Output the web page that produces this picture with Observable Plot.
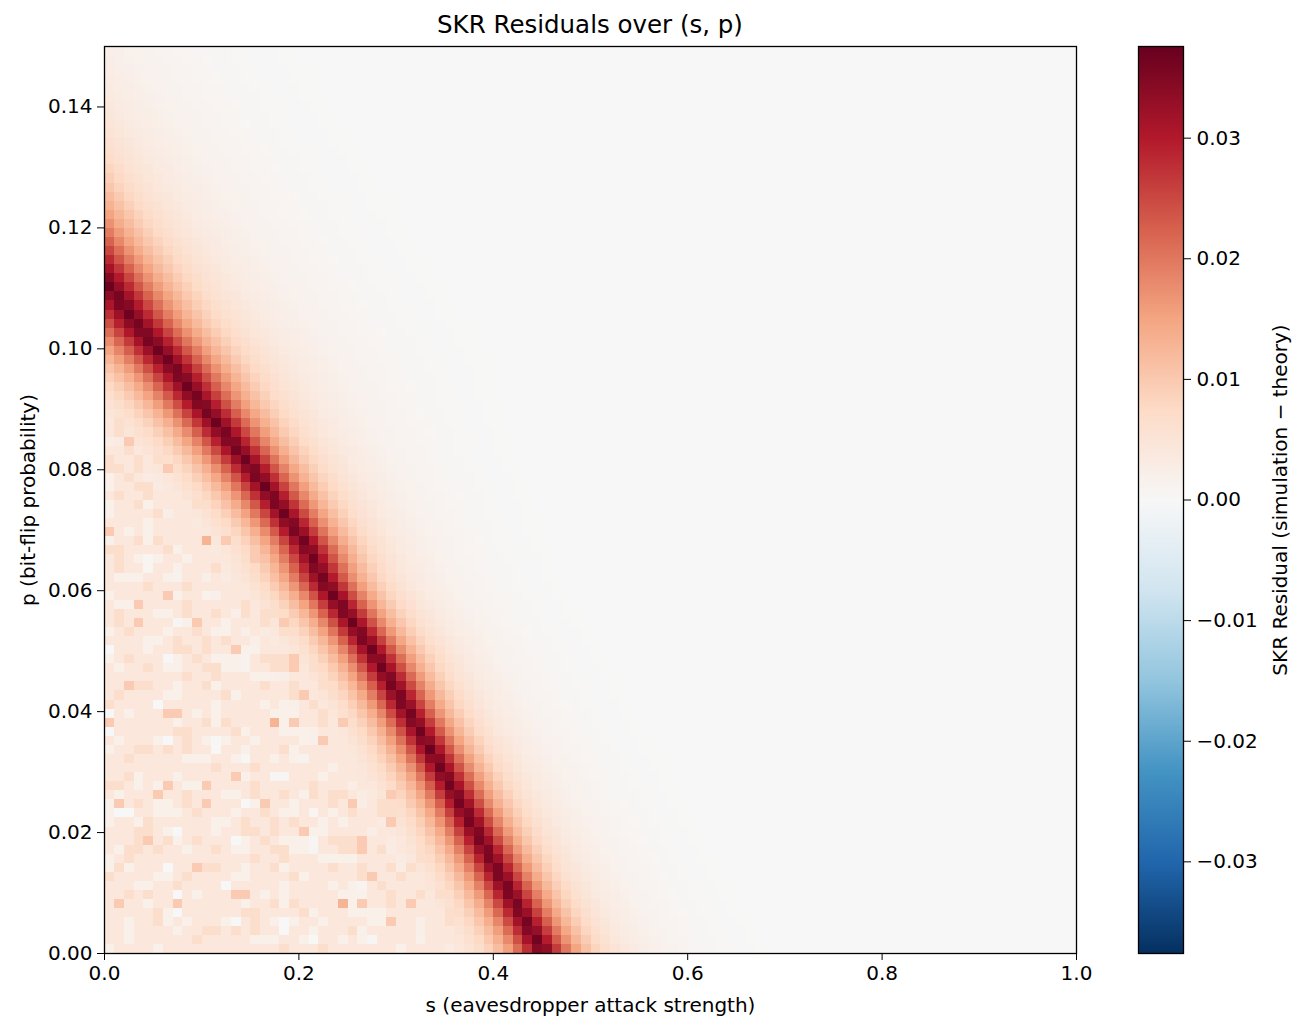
<!DOCTYPE html>
<html><head><meta charset="utf-8">
<script src="https://cdn.jsdelivr.net/npm/d3@7"></script>
<script src="https://cdn.jsdelivr.net/npm/@observablehq/plot@0.6"></script>
<style>
body{margin:0;background:#fff;}
#wrap{position:relative;width:1305px;height:1032px;font-family:"DejaVu Sans",sans-serif;color:#000;}
#title{position:absolute;left:104px;width:972px;top:11px;text-align:center;font-size:24.5px;line-height:28px;}
#main{position:absolute;left:0;top:0;}
#cbar{position:absolute;left:1130px;top:0;}
</style></head><body>
<div id="wrap"><div id="title">SKR Residuals over (s, p)</div><div id="main"></div><div id="cbar"></div></div>
<script>
// ---- grid / axes ----
const sCount = 100, pCount = 100, sMax = 1, pMax = 0.15;
const xTicks = [0, 0.2, 0.4, 0.6, 0.8, 1.0];
const yTicks = [0, 0.02, 0.04, 0.06, 0.08, 0.10, 0.12, 0.14];
const cbarTicks = [-0.03, -0.02, -0.01, 0, 0.01, 0.02, 0.03];
const vLimit = 0.0376;
// RdBu (reversed) anchor colours, blue -> white -> red
const paletteColors = ["#053061", "#2166ac", "#4393c3", "#92c5de", "#d1e5f0", "#f7f7f7", "#fddbc7", "#f4a582", "#d6604d", "#b2182b", "#67001f"];

// ---- ridge of maximum residual (p, s) ----
const ridgeP = [0.0008, 0.0088, 0.0208, 0.0298, 0.0385, 0.0496, 0.0617, 0.0675, 0.0766, 0.0812, 0.0853, 0.0915, 0.0961, 0.1039, 0.1108];
const ridgeS = [0.449, 0.421, 0.380, 0.349, 0.318, 0.277, 0.225, 0.207, 0.168, 0.147, 0.127, 0.096, 0.075, 0.034, 0.003];

// ---- band width factor vs p (read) ----
const widthP = [0, 0.04, 0.068, 0.085, 0.10, 0.15];
const widthK = [1.0, 1.0, 1.08, 1.25, 1.45, 1.6];

// ---- residual vs distance from ridge, in cells (read) ----
const profileOffset = [0, 1, 2, 3, 4, 5, 6, 7, 8, 9, 10, 12, 14, 17, 20, 25];
const profileValue = [0.0372, 0.0305, 0.0235, 0.0175, 0.013, 0.0098, 0.0074, 0.0057, 0.0045, 0.0035, 0.0028, 0.0018, 0.0012, 0.0006, 0.0002, 0];

// ---- speckle of the positive-SKR region (read from lower-left block), levels ----
const noiseLevels = [-0.0010, 0.002, 0.0044, 0.0068, 0.0098, 0.013];
const noiseTile = [
  "2231222122" + "2224122002" + "2212222223",
  "3321214211" + "4222232222" + "2322212223",
  "2122242232" + "2211232232" + "1323321124",
  "1423211232" + "4222014221" + "2223241233",
  "1002211123" + "2221223211" + "2021232233",
  "1221322222" + "2112322323" + "2212122214",
  "2223321022" + "2122332322" + "4112222122",
  "2223423123" + "2220123211" + "1023334221",
  "2133232212" + "2321122331" + "1022334230",
  "1232222222" + "2222232232" + "2211112222",
  "1312220224" + "3322122312" + "2223223223",
  "3222211232" + "2221122223" + "1222223422",
  "2221122322" + "2202222212" + "2221210232",
  "2232322021" + "2224421212" + "2222111223",
  "2422122422" + "2222122313" + "2222514223",
  "2222231022" + "2222332222" + "3122211112",
  "2212231212" + "2210232101" + "2212222114",
  "2212222122" + "3323232202" + "2122231222",
  "2212222223" + "2222211122" + "1022121022",
  "1222212222" + "2222222232" + "2232222222"
];

// ---- helpers: lookup in read tables ----
function lookup(xs, ys, x) {
  const n = xs.length;
  let k = 0;
  if (x <= xs[0]) k = 0;
  else if (x >= xs[n - 1]) k = n - 2;
  else { while (xs[k + 1] < x) k++; }
  const t = (x - xs[k]) / (xs[k + 1] - xs[k]);
  return ys[k] + t * (ys[k + 1] - ys[k]);
}
function profileAt(d) {
  if (d >= profileOffset[profileOffset.length - 1]) return 0;
  return lookup(profileOffset, profileValue, d);
}
function noiseAt(row, col) {
  const tr = noiseTile.length - 1 - (row % noiseTile.length);
  const line = noiseTile[tr];
  const c = (col + 7 * Math.floor(row / noiseTile.length)) % line.length;
  return noiseLevels[+line[c]];
}

const cells = [];
for (let j = 0; j < pCount; j++) {
  const p = (j + 0.5) * pMax / pCount;
  const sr = lookup(ridgeP, ridgeS, p);
  const w = lookup(widthP, widthK, p);
  for (let i = 0; i < sCount; i++) {
    const s = (i + 0.5) * sMax / sCount;
    const d = (s - sr) / (sMax / sCount) / w;
    let v = profileAt(Math.abs(d));
    if (d < 0) v = Math.max(v, noiseAt(j, i));
    cells.push({s, p, v});
  }
}

const paletteDomain = paletteColors.map((_, k) => -vLimit + 2 * vLimit * k / (paletteColors.length - 1));
const colorScale = {type: "linear", domain: paletteDomain, range: paletteColors, interpolate: "rgb", clamp: true};
const style = {fontFamily: "DejaVu Sans", fontSize: "20px", color: "black", background: "transparent"};

const main = Plot.plot({
  width: 1130, height: 1032,
  marginTop: 46, marginLeft: 104, marginRight: 54, marginBottom: 79,
  x: {domain: [0, sMax]},
  y: {domain: [0, pMax]},
  color: colorScale,
  style,
  marks: [
    Plot.raster(cells, {x: "s", y: "p", fill: "v", x1: 0, x2: sMax, y1: 0, y2: pMax, width: sCount, height: pCount, imageRendering: "pixelated"}),
    Plot.frame({stroke: "black", strokeWidth: 1.3}),
    Plot.axisX({ticks: xTicks, tickFormat: d3.format(".1f"), tickSize: 7, tickPadding: 5, label: "s (eavesdropper attack strength)", labelAnchor: "center", labelArrow: "none", labelOffset: 58}),
    Plot.axisY({ticks: yTicks, tickFormat: d3.format(".2f"), tickSize: 7, tickPadding: 5, label: "p (bit-flip probability)", labelAnchor: "center", labelArrow: "none", labelOffset: 84})
  ]
});
document.getElementById("main").append(main);

const cbar = Plot.plot({
  width: 175, height: 1032,
  marginTop: 46, marginBottom: 79, marginLeft: 8, marginRight: 122,
  x: {domain: [0, 1], axis: null},
  y: {domain: [-vLimit, vLimit]},
  color: colorScale,
  style,
  marks: [
    Plot.raster({fill: (x, y) => y, x1: 0, x2: 1, y1: -vLimit, y2: vLimit}),
    Plot.frame({stroke: "black", strokeWidth: 1.3}),
    Plot.axisY({anchor: "right", ticks: cbarTicks, tickFormat: d3.format(".2f"), tickSize: 7, tickPadding: 6, label: "SKR Residual (simulation \u2212 theory)", labelAnchor: "center", labelArrow: "none", labelOffset: 103})
  ]
});
document.getElementById("cbar").append(cbar);
</script>
</body></html>
